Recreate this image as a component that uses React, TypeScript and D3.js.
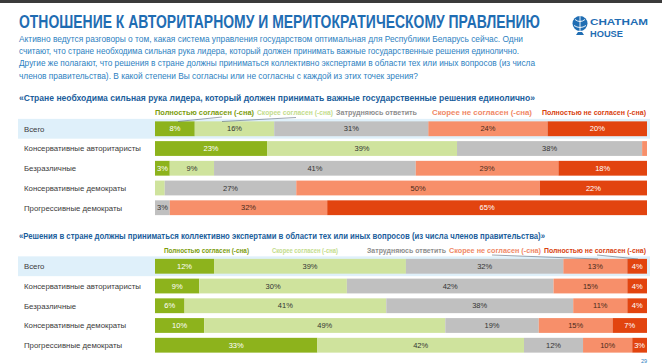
import React from 'react';
import * as d3 from 'd3';

// categories / answers
const groups = ['Всего', 'Консервативные авторитаристы', 'Безразличные', 'Консервативные демократы', 'Прогрессивные демократы'];
const answers = ['Полностью согласен (-сна)', 'Скорее согласен (-сна)', 'Затрудняюсь ответить', 'Скорее не согласен (-сна)', 'Полностью не согласен (-сна)'];
const keys = ['fullyAgree', 'ratherAgree', 'hard', 'ratherDisagree', 'fullyDisagree'];

// «Стране необходима сильная рука лидера...»
const leaderFullyAgree = [8, 23, 3, 0, 0];
const leaderRatherAgree = [16, 39, 9, 2, 0];
const leaderHard = [31, 38, 41, 27, 3];
const leaderRatherDisagree = [24, 1, 29, 50, 32];
const leaderFullyDisagree = [20, 0, 18, 22, 65];

// «Решения в стране должны приниматься коллективно экспертами...»
const expertsFullyAgree = [12, 9, 6, 10, 33];
const expertsRatherAgree = [39, 30, 41, 49, 42];
const expertsHard = [32, 42, 38, 19, 12];
const expertsRatherDisagree = [13, 15, 11, 15, 10];
const expertsFullyDisagree = [4, 4, 4, 7, 3];

const title = 'ОТНОШЕНИЕ К АВТОРИТАРНОМУ И МЕРИТОКРАТИЧЕСКОМУ ПРАВЛЕНИЮ';
const intro = [
  'Активно ведутся разговоры о том, какая система управления государством оптимальная для Республики Беларусь сейчас. Одни',
  'считают, что стране необходима сильная рука лидера, который должен принимать важные государственные решения единолично.',
  'Другие же полагают, что решения в стране должны приниматься коллективно экспертами в области тех или иных вопросов (из числа',
  'членов правительства). В какой степени Вы согласны или не согласны с каждой из этих точек зрения?'
];
const question1 = '«Стране необходима сильная рука лидера, который должен принимать важные государственные решения единолично»';
const question2 = '«Решения в стране должны приниматься коллективно экспертами в области тех или иных вопросов (из числа членов правительства)»';

const colors = ['#8db31c', '#cfe39d', '#c0c0c0', '#f78f6a', '#e2440f'];
const legendColors = ['#7b9c0c', '#c3dc8c', '#8e8e8e', '#f08866', '#d8420f'];
const labelColors = ['#ffffff', '#333333', '#333333', '#4a2a1a', '#ffffff'];

const FONT = '"Liberation Sans", Arial, sans-serif';
const W = 662;
const H = 364;

function buildRows(series: number[][]) {
  return groups.map((g, i) => {
    const row: any = { group: g };
    keys.forEach((k, j) => { row[k] = series[j][i]; });
    return row;
  });
}

type SectionProps = {
  series: number[][];
  top: number;
  legendSpans: [number, number][];
  leaders: [number, number, number, number][];
  legendY: number;
};

function Section({ series, top, legendSpans, leaders, legendY }: SectionProps) {
  const rows = buildRows(series);
  const stacked = d3.stack<any>().keys(keys).offset(d3.stackOffsetExpand)(rows);
  const x = d3.scaleLinear().domain([0, 1]).range([155, 647]);
  const y = d3.scaleBand().domain(groups).range([top, top + 98.5]).paddingInner(0.25).paddingOuter(0.12);
  const bh = y.bandwidth();

  return (
    <g>
      <rect x={18} y={(y('Всего') as number) - 2.5} width={632} height={bh + 5} fill="#dff0fa" />
      {groups.map((g) => (
        <text key={g} x={24} y={(y(g) as number) + bh / 2 + 2.8} fontSize={7.8} fill="#3a3a3a" fontFamily={FONT}>{g}</text>
      ))}
      {stacked.map((layer, j) => (
        <g key={layer.key}>
          {layer.map((d, i) => {
            const v = series[j][i];
            if (!v) return null;
            const x0 = x(d[0]);
            const x1 = x(d[1]);
            const yy = y(groups[i]) as number;
            return (
              <g key={i}>
                <rect x={x0} y={yy} width={Math.max(0, x1 - x0)} height={bh} fill={colors[j]} />
                {v >= 3 && (
                  <text x={(x0 + x1) / 2} y={yy + bh / 2 + 2.7} textAnchor="middle" fontSize={7.5}
                    fill={labelColors[j]} fontFamily={FONT}>{v}%</text>
                )}
              </g>
            );
          })}
        </g>
      ))}
      {answers.map((a, j) => (
        <text key={a} x={legendSpans[j][0]} y={legendY} fontSize={7.6} fontWeight={j === 0 || j === 4 ? 'bold' : 600}
          fill={legendColors[j]} fontFamily={FONT} textLength={legendSpans[j][1] - legendSpans[j][0]}
          lengthAdjust="spacingAndGlyphs">{a}</text>
      ))}
      {leaders.map((l, i) => (
        <line key={i} x1={l[0]} y1={l[1]} x2={l[2]} y2={l[3]} stroke="#5a6a7a" strokeWidth={0.6} />
      ))}
    </g>
  );
}

export default function App() {
  const leaderSeries = [leaderFullyAgree, leaderRatherAgree, leaderHard, leaderRatherDisagree, leaderFullyDisagree];
  const expertsSeries = [expertsFullyAgree, expertsRatherAgree, expertsHard, expertsRatherDisagree, expertsFullyDisagree];

  return (
    <svg width={W} height={H} style={{ position: 'absolute', left: 0, top: 0, background: '#fff' }}>
      <rect x={0} y={0} width={W} height={H} fill="#ffffff" />
      <rect x={0} y={0} width={W} height={3} fill="#3b3b3b" />

      {/* condensed title: narrow font size, stretched vertically */}
      <text transform="translate(19,28) scale(1,1.42)" x={0} y={0} fontSize={12.7} fontWeight="bold" fill="#1f6db3"
        fontFamily={FONT} textLength={521} lengthAdjust="spacingAndGlyphs">{title}</text>
      {intro.map((line, i) => (
        <text key={i} x={19} y={42 + i * 12.2} fontSize={9} fill="#2d7fc1" fontFamily={FONT}
          textLength={[504, 500, 516, 399][i]} lengthAdjust="spacingAndGlyphs">{line}</text>
      ))}

      {/* logo */}
      <g>
        <circle cx={580} cy={23.5} r={7.5} fill="#1f6db3" />
        <path d="M575,19.5 Q580,23.5 585,19.5 M574,25.5 Q580,29.5 586,25.5 M580,16 L580,31" stroke="#fff" strokeWidth={0.9} fill="none" />
        <path d="M576,35 L584,35 L582,32 L578,32 Z" fill="#1f6db3" />
        <text x={590} y={24.5} fontSize={9.6} fontWeight="bold" fill="#1f6db3" fontFamily={FONT}
          textLength={58} lengthAdjust="spacingAndGlyphs">CHATHAM</text>
        <text x={590} y={36.5} fontSize={9.6} fontWeight="bold" fill="#1f6db3" fontFamily={FONT}
          textLength={33} lengthAdjust="spacingAndGlyphs">HOUSE</text>
      </g>

      <text x={19} y={101} fontSize={9.2} fontWeight="bold" fill="#1b5e9c" fontFamily={FONT}
        textLength={516} lengthAdjust="spacingAndGlyphs">{question1}</text>
      <Section
        series={leaderSeries}
        top={119}
        legendY={115}
        legendSpans={[[155, 254], [257, 333], [336, 417], [432, 532], [542, 646]]}
        leaders={[[222, 117, 178, 121.5], [296, 117.5, 222, 121.5]]}
      />

      <text x={19} y={239} fontSize={9.2} fontWeight="bold" fill="#1b5e9c" fontFamily={FONT}
        textLength={526} lengthAdjust="spacingAndGlyphs">{question2}</text>
      <Section
        series={expertsSeries}
        top={256.5}
        legendY={253}
        legendSpans={[[164, 249], [272, 338], [367, 446], [449, 541], [544, 646]]}
        leaders={[[492, 255, 598, 259], [597, 255, 638, 259]]}
      />

      <text x={641} y={363} fontSize={5.5} fill="#2d7fc1" fontFamily={FONT}>29</text>
    </svg>
  );
}
